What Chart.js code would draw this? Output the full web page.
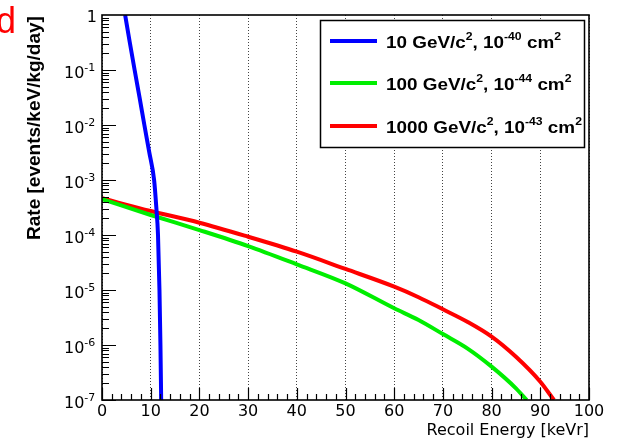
<!DOCTYPE html>
<html>
<head>
<meta charset="utf-8">
<script src="https://cdn.jsdelivr.net/npm/chart.js@4.4.1/dist/chart.umd.min.js"></script>
<style>
  html, body { margin: 0; padding: 0; background: #fff; }
  canvas { display: block; }
</style>
</head>
<body>
<canvas id="rateChart" width="626" height="443"></canvas>
<script>
// recoil energy [keVr] and rate [events/keV/kg/day]
const blueEnergy = [4.75, 5.7, 6.7, 7.7, 8.7, 9.7, 10.7, 11.15, 11.5, 11.8, 12.0, 12.15];
const blueRate = [1, 3.2e-1, 1e-1, 3.2e-2, 1e-2, 3.2e-3, 1e-3, 3.2e-4, 1e-4, 1e-5, 1e-6, 1e-7];

const greenEnergy = [0, 10, 20, 30, 40, 50, 60, 65, 70, 75, 80, 85, 87.2];
const greenRate = [4.5e-4, 2.31e-4, 1.23e-4, 6.3e-5, 2.93e-5, 1.32e-5, 4.65e-6, 2.85e-6, 1.58e-6, 8.7e-7, 4.04e-7, 1.63e-7, 1e-7];

const redEnergy = [0, 10, 20, 30, 40, 50, 60, 65, 70, 75, 80, 85, 90, 92.8];
const redRate = [4.65e-4, 2.73e-4, 1.67e-4, 9.3e-5, 4.97e-5, 2.41e-5, 1.15e-5, 7.4e-6, 4.46e-6, 2.65e-6, 1.42e-6, 6.1e-7, 2.15e-7, 1e-7];

// legend text as [text, superscript?] runs
const legendLabels = [
  [["10 GeV/c", 0], ["2", 1], [", 10", 0], ["-40", 1], [" cm", 0], ["2", 1]],
  [["100 GeV/c", 0], ["2", 1], [", 10", 0], ["-44", 1], [" cm", 0], ["2", 1]],
  [["1000 GeV/c", 0], ["2", 1], [", 10", 0], ["-43", 1], [" cm", 0], ["2", 1]],
];
const seriesColors = ["#0000ff", "#00ee00", "#ff0000"];

const yExponents = [0, -1, -2, -3, -4, -5, -6, -7];
const yTitle = "Rate [events/keV/kg/day]";
const xTitle = "Recoil Energy [keVr]";
const panelLetter = "d";

const toPoints = (xs, ys) => xs.map((v, i) => ({ x: v, y: ys[i] }));

function drawRuns(ctx, runs, x, base, size, sx) {
  runs.forEach(([text, sup]) => {
    ctx.font = `bold ${sup ? Math.round(size * 0.64) : size}px "Liberation Sans", Arial, sans-serif`;
    ctx.save();
    ctx.translate(x, sup ? base - 8 : base);
    ctx.scale(sx, 1);
    ctx.fillText(text, 0, 0);
    ctx.restore();
    x += ctx.measureText(text).width * sx;
  });
}

// frame, inner ticks, y labels, titles and legend box
const decor = {
  id: "decor",
  afterDatasetsDraw(chart) {
    const { ctx, chartArea: a, scales: { x, y } } = chart;
    ctx.save();

    ctx.strokeStyle = "#000";
    ctx.lineWidth = 1.2;
    ctx.beginPath();
    for (let e = -7; e < 0; e++) {
      for (let m = 1; m < 10; m++) {
        const py = Math.round(y.getPixelForValue(m * Math.pow(10, e))) + 0.5;
        ctx.moveTo(a.left, py);
        ctx.lineTo(a.left + (m === 1 ? 14 : 7), py);
      }
    }
    for (let v = 0; v <= 100; v += 2) {
      const px = Math.round(x.getPixelForValue(v)) + 0.5;
      ctx.moveTo(px, a.bottom);
      ctx.lineTo(px, a.bottom - (v % 10 === 0 ? 12 : 6));
    }
    ctx.stroke();

    ctx.lineWidth = 1.6;
    ctx.strokeRect(a.left, a.top, a.right - a.left, a.bottom - a.top);

    // y tick labels
    ctx.fillStyle = "#000";
    ctx.textBaseline = "alphabetic";
    yExponents.forEach((e) => {
      const py = y.getPixelForValue(Math.pow(10, e));
      if (e === 0) {
        ctx.font = '16px "DejaVu Sans", sans-serif';
        ctx.textAlign = "right";
        ctx.fillText("1", 97, py + 6.5);
        return;
      }
      ctx.textAlign = "left";
      ctx.font = '16px "DejaVu Sans", sans-serif';
      ctx.fillText("10", 64, py + 8);
      const w = ctx.measureText("10").width;
      ctx.font = '11px "DejaVu Sans", sans-serif';
      ctx.fillText(String(e), 64 + w, py + 0.5);
    });

    // y title
    ctx.save();
    ctx.translate(35, 128);
    ctx.rotate(-Math.PI / 2);
    ctx.textAlign = "center";
    ctx.textBaseline = "middle";
    ctx.font = 'bold 19px "Liberation Sans", Arial, sans-serif';
    ctx.fillText(yTitle, 0, 0);
    ctx.restore();

    // panel letter
    ctx.fillStyle = "#ff0000";
    ctx.textAlign = "left";
    ctx.font = '36px "Liberation Sans", Arial, sans-serif';
    ctx.fillText(panelLetter, -4, 33);

    // legend
    ctx.fillStyle = "#fff";
    ctx.fillRect(320, 20, 264, 127);
    ctx.strokeStyle = "#000";
    ctx.lineWidth = 1.5;
    ctx.strokeRect(320.5, 20.5, 264, 127);
    const rows = [41, 83, 126];
    ctx.lineWidth = 4;
    rows.forEach((ry, i) => {
      ctx.strokeStyle = seriesColors[i];
      ctx.beginPath();
      ctx.moveTo(330, ry);
      ctx.lineTo(377, ry);
      ctx.stroke();
      ctx.fillStyle = "#000";
      drawRuns(ctx, legendLabels[i], 386, ry + 6.5, 17, 1.11);
    });

    ctx.restore();
  },
};

const lineStyle = (color) => ({
  borderColor: color,
  backgroundColor: color,
  borderWidth: 4,
  pointRadius: 0,
  cubicInterpolationMode: "monotone",
  clip: 0,
  fill: false,
});

new Chart(document.getElementById("rateChart"), {
  type: "line",
  data: {
    datasets: [
      { label: "10 GeV", data: toPoints(blueEnergy, blueRate), ...lineStyle(seriesColors[0]) },
      { label: "100 GeV", data: toPoints(greenEnergy, greenRate), ...lineStyle(seriesColors[1]) },
      { label: "1000 GeV", data: toPoints(redEnergy, redRate), ...lineStyle(seriesColors[2]) },
    ],
  },
  options: {
    responsive: false,
    animation: false,
    events: [],
    layout: { padding: { left: 0, right: 37, top: 15, bottom: 0 } },
    plugins: { legend: { display: false }, tooltip: { enabled: false } },
    scales: {
      x: {
        type: "linear",
        min: 0,
        max: 100,
        grid: { color: "#444", lineWidth: 1, drawTicks: false },
        border: { display: false, dash: [1, 2] },
        ticks: {
          stepSize: 10,
          autoSkip: false,
          maxRotation: 0,
          padding: 2,
          color: "#000",
          font: { family: "DejaVu Sans", size: 16 },
        },
        title: {
          display: true,
          text: xTitle,
          align: "end",
          color: "#000",
          font: { family: "DejaVu Sans", size: 16 },
          padding: { top: 0, bottom: 3 },
        },
        afterFit: (s) => { s.height = 43; },
      },
      y: {
        type: "logarithmic",
        min: 1e-7,
        max: 1,
        grid: { display: false },
        border: { display: false },
        ticks: { display: false },
        afterFit: (s) => { s.width = 102; },
      },
    },
  },
  plugins: [decor],
});
</script>
</body>
</html>
